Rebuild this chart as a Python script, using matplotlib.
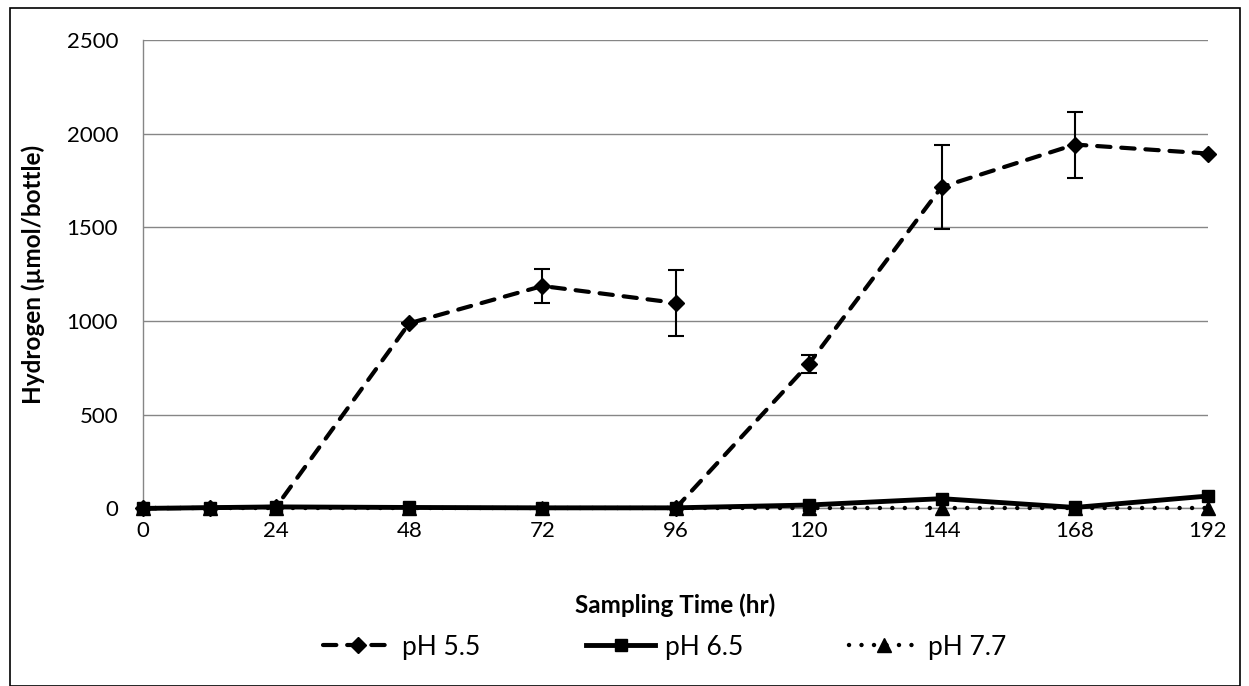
import matplotlib
matplotlib.use("Agg")
import matplotlib.pyplot as plt
from matplotlib.patches import Rectangle
import numpy as np

plt.rcParams['font.family'] = ['Lato', 'DejaVu Sans']

# ---- data ----
x_ticks = [0, 24, 48, 72, 96, 120, 144, 168, 192]
y_ticks = [0, 500, 1000, 1500, 2000, 2500]

time = [0, 12, 24, 48, 72, 96, 120, 144, 168, 192]

# pH 5.5 : two runs (restart at 96 h)
ph55_t1 = [0, 12, 24, 48, 72, 96]
ph55_v1 = [0, 3, 8, 988, 1187, 1097]
ph55_e1 = [0, 0, 0, 0, 90, 175]
ph55_t2 = [96, 120, 144, 168, 192]
ph55_v2 = [0, 770, 1716, 1942, 1894]
ph55_e2 = [0, 47, 224, 176, 0]

ph65 = [0, 4, 8, 5, 3, 3, 18, 52, 5, 66]
ph77 = [0, 0, 0, 0, 0, 0, 0, 0, 0, 0]

labels = ["pH 5.5", "pH 6.5", "pH 7.7"]

W, H = 1249, 686
fig = plt.figure(figsize=(W / 100, H / 100), dpi=100)
L, R, T, B = 143, 1208, 40, 508.4
ax = fig.add_axes([L / W, 1 - B / H, (R - L) / W, (B - T) / H])

grid_c = "#868686"
ax.set_xlim(0, 192)
ax.set_ylim(0, 2500)
ax.set_xticks(x_ticks)
ax.set_yticks(y_ticks)
ax.yaxis.grid(True, color=grid_c, lw=1.0)
ax.set_axisbelow(True)
for s in ["top", "right"]:
    ax.spines[s].set_visible(False)
for s in ["left", "bottom"]:
    ax.spines[s].set_color(grid_c)
    ax.spines[s].set_linewidth(1.0)
ax.tick_params(axis="both", length=0, labelsize=16, colors="black")
ax.tick_params(axis="y", pad=18)
ax.tick_params(axis="x", pad=9)

# pH 5.5
t_all = ph55_t1 + [np.nan] + ph55_t2
v_all = ph55_v1 + [np.nan] + ph55_v2
l55, = ax.plot(t_all, v_all, color="black", lw=3.0, linestyle=(0, (3.2, 2.6)),
               dash_capstyle="round", marker="D", markersize=8.5, zorder=3,
               label=labels[0], clip_on=False)
ax.errorbar(ph55_t1 + ph55_t2, ph55_v1 + ph55_v2, yerr=ph55_e1 + ph55_e2,
            fmt="none", ecolor="black", elinewidth=1.5, capsize=6, capthick=1.5,
            zorder=3)

# pH 6.5
l65, = ax.plot(time, ph65, color="black", lw=3.5, marker="s", markersize=8.5,
               zorder=4, label=labels[1], clip_on=False)

# pH 7.7
l77, = ax.plot(time, ph77, color="black", lw=3.2, linestyle=(0, (0.01, 2.8)),
               dash_capstyle="round", marker="^", markersize=9.5, zorder=5,
               label=labels[2], clip_on=False)

fig.text(33 / W, 1 - ((T + B) / 2) / H, "Hydrogen (µmol/bottle)", rotation=90,
         ha="center", va="center", fontsize=17.5, fontweight="bold")
fig.text(((L + R) / 2) / W, 1 - 605 / H, "Sampling Time (hr)", ha="center",
         va="center", fontsize=17.5, fontweight="bold")

fig.legend(handles=[l55, l65, l77], labels=labels, loc="center", ncol=3,
           bbox_to_anchor=(665 / W, 1 - 647 / H), frameon=False, fontsize=19,
           handlelength=2.6, handletextpad=0.4, columnspacing=4.0, numpoints=1)

fig.patches.append(Rectangle((10 / W, 0), (1240 - 10) / W, 1 - 8 / H,
                             transform=fig.transFigure, fill=False,
                             edgecolor="black", lw=1.2))

fig.savefig("out.png", dpi=100)
